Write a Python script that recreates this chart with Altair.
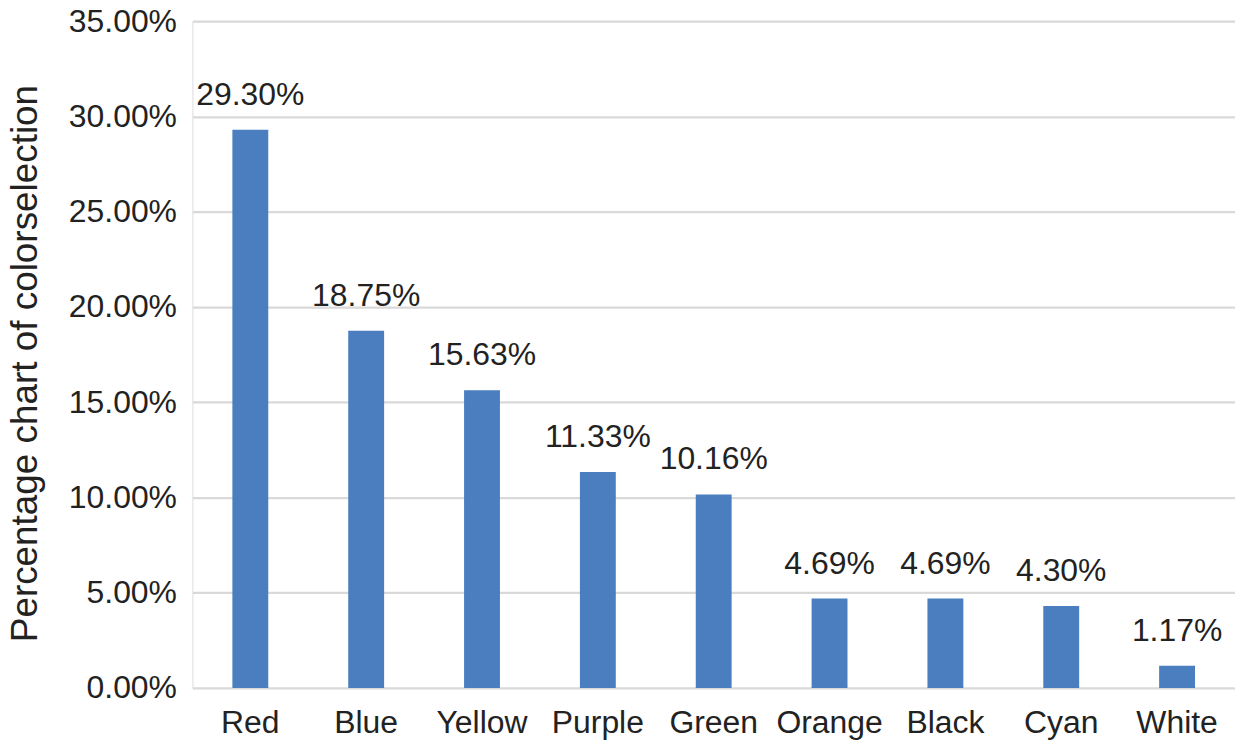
import altair as alt
import pandas as pd

colors = ["Red", "Blue", "Yellow", "Purple", "Green", "Orange", "Black", "Cyan", "White"]
shares = [0.2930, 0.1875, 0.1563, 0.1133, 0.1016, 0.0469, 0.0469, 0.0430, 0.0117]

df = pd.DataFrame({"color": colors, "share": shares})

FONT = "Liberation Sans"

base = alt.Chart(df).encode(
    x=alt.X("color:N", sort=colors, title=None,
            scale=alt.Scale(paddingInner=0.69, paddingOuter=0.345),
            axis=alt.Axis(labelAngle=0, ticks=False, domain=False, labelFontSize=32,
                          labelFont=FONT, labelColor="#222222", labelBaseline="alphabetic",
                          labelPadding=45)),
    y=alt.Y("share:Q", title="Percentage chart of colorselection",
            scale=alt.Scale(domain=[0, 0.35]),
            axis=alt.Axis(format=".2%", values=[0, 0.05, 0.1, 0.15, 0.2, 0.25, 0.3, 0.35],
                          ticks=False, domain=False, grid=True, gridColor="#d9d9d9",
                          gridWidth=2.3, labelFontSize=32, labelFont=FONT,
                          labelColor="#222222", labelPadding=16,
                          titleFont=FONT, titleFontSize=37, titleFontWeight="normal",
                          titleColor="#222222", titleX=-156, titleY=343,
                          titleAlign="center", titleBaseline="alphabetic", titleAngle=270)),
)

bars = base.mark_bar(color="#4a7ebf", size=36)
labels = base.mark_text(baseline="alphabetic", dy=-25, fontSize=32, font=FONT,
                        color="#222222").encode(text=alt.Text("share:Q", format=".2%"))

chart = (bars + labels).properties(
    width=1046, height=669,
    autosize=alt.AutoSizeParams(type="none"),
    padding={"left": 185, "top": 12, "right": 0, "bottom": 52},
).configure_view(stroke=None).configure(background="white")

chart.save("out.html", embed_options={"renderer": "svg", "actions": False})
